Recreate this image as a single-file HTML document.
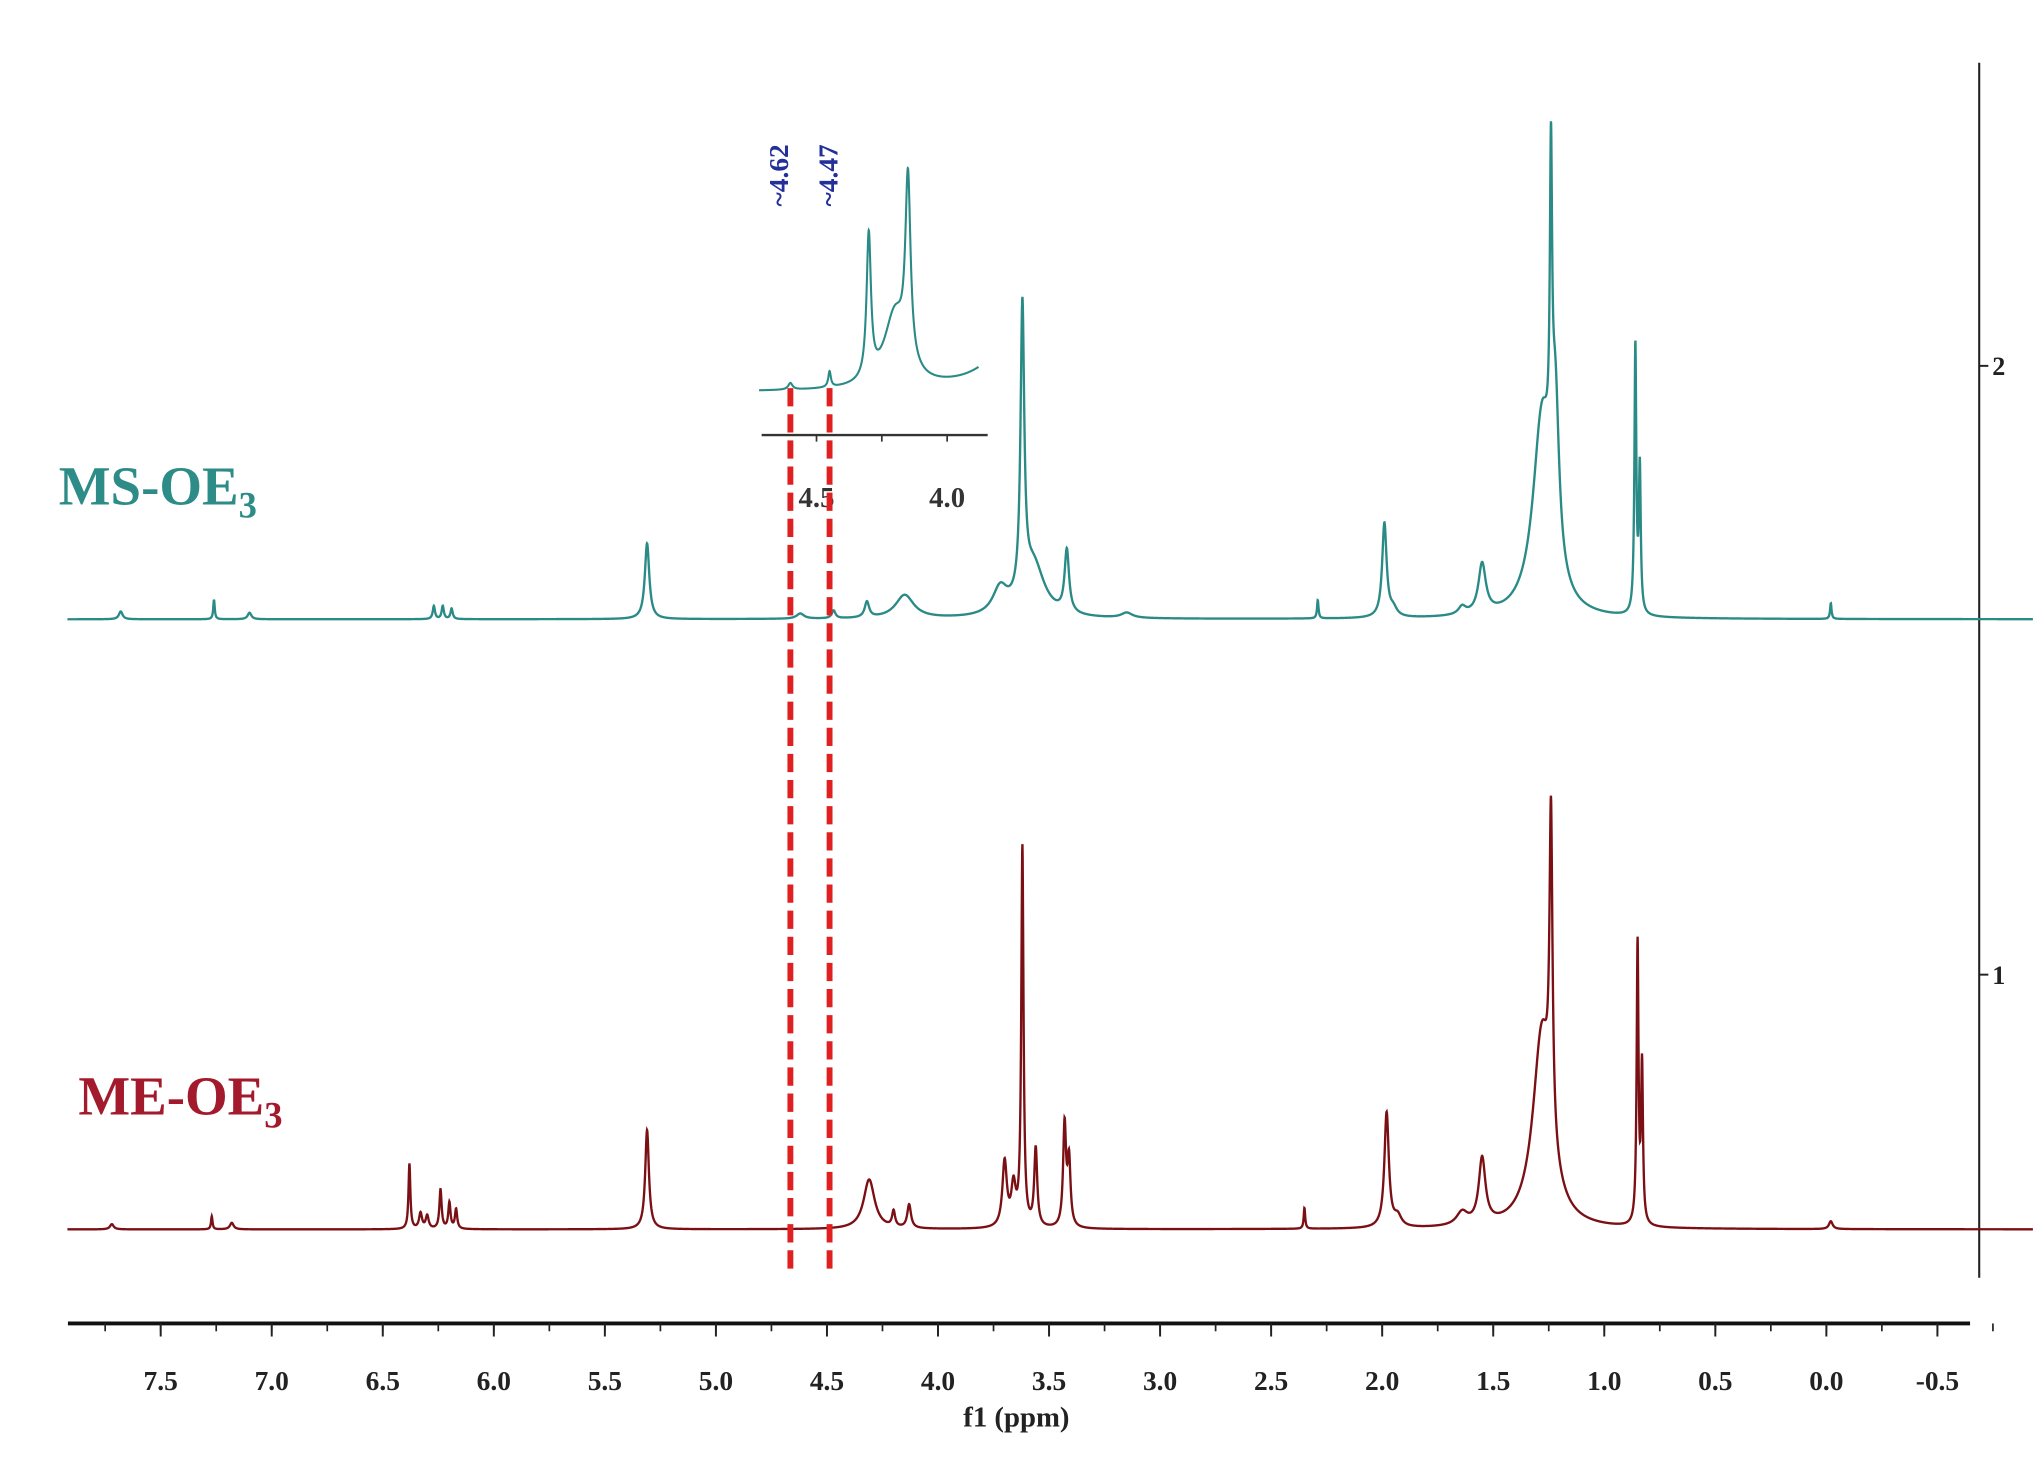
<!DOCTYPE html>
<html><head><meta charset="utf-8"><style>
html,body{margin:0;padding:0;background:#fff;}
svg{display:block;}
text{font-family:"Liberation Serif",serif;}
</style></head><body>
<svg id="chart" width="2038" height="1462" viewBox="0 0 1560 1119" xmlns="http://www.w3.org/2000/svg">
<g id="axes"></g>
<path id="ms" fill="none" stroke="#2a8a86" stroke-width="1.8"/>
<path id="me" fill="none" stroke="#7a0f14" stroke-width="1.8"/>
<path id="inset" fill="none" stroke="#2a8a86" stroke-width="1.6"/>
<g id="inset-axis"></g>
<line x1="605" y1="297" x2="605" y2="975" stroke="#e02020" stroke-width="4.5" stroke-dasharray="14,6"/>
<line x1="635" y1="297" x2="635" y2="975" stroke="#e02020" stroke-width="4.5" stroke-dasharray="14,6"/>
<text transform="translate(603,158) rotate(-90)" font-size="21" font-weight="bold" fill="#23309a">~4.62</text>
<text transform="translate(641,158) rotate(-90)" font-size="21" font-weight="bold" fill="#23309a">~4.47</text>
<text x="45" y="386" font-size="42" font-weight="bold" fill="#2e8c88">MS-OE<tspan font-size="28" dy="10">3</tspan></text>
<text x="60" y="853" font-size="42" font-weight="bold" fill="#a31a2c">ME-OE<tspan font-size="28" dy="10">3</tspan></text>
<text x="778" y="1092" font-size="22" font-weight="bold" text-anchor="middle" fill="#222">f1 (ppm)</text>
</svg>
<script>
const tickLabels = [7.5,7.0,6.5,6.0,5.5,5.0,4.5,4.0,3.5,3.0,2.5,2.0,1.5,1.0,0.5,0.0,-0.5];
const rightTicks = [2,1];
// MS-OE3 peaks: ppm, height (px), width (ppm)
const msPpm = [7.68,7.26,7.1,6.27,6.23,6.19,5.31,4.62,4.47,4.32,4.15,3.72,3.62,3.57,3.42,3.15,2.29,1.99,1.95,1.64,1.55,1.28,1.24,1.22,0.86,0.84,-0.02];
const msH   = [6,15,5,10,10,8,58,4,6,12,18,20,220,40,48,4,14,72,6,6,38,150,230,120,205,110,12];
const msW   = [.01,.004,.01,.006,.006,.006,.012,.02,.01,.012,.05,.04,.01,.06,.012,.03,.004,.012,.02,.02,.02,.05,.006,.02,.005,.005,.004];
// ME-OE3 peaks
const mePpm = [7.72,7.27,7.18,6.38,6.33,6.3,6.24,6.2,6.17,5.31,4.31,4.2,4.13,3.70,3.66,3.62,3.56,3.43,3.41,2.35,1.98,1.93,1.64,1.55,1.28,1.24,0.85,0.83,-0.02];
const meH   = [4,10,5,50,12,10,30,20,15,76,38,12,18,50,30,290,60,78,50,16,88,8,10,50,150,240,215,120,6];
const meW   = [.01,.004,.01,.005,.008,.008,.006,.006,.006,.01,.03,.008,.01,.012,.012,.006,.008,.008,.008,.004,.012,.02,.03,.018,.05,.008,.005,.005,.01];
// inset (MS-OE3 zoom 4.7 - 3.8 ppm)
const insPpm = [4.62,4.47,4.32,4.22,4.17,3.75];
const insH   = [5,12,110,55,140,45];
const insW   = [.01,.006,.01,.05,.012,.12];

const NS='http://www.w3.org/2000/svg';
const X = p => 123 + (7.5 - p) * 170;
const IX = p => 635 + (4.47 - p) * 200;
function spec(ppms, hs, ws, p){let s=0;for(let i=0;i<ppms.length;i++){const d=p-ppms[i];s+=hs[i]*ws[i]*ws[i]/(d*d+ws[i]*ws[i]);}return s;}
function build(ppms,hs,ws,base,xf,p0,p1,n){let d='';for(let i=0;i<=n;i++){const p=p0+(p1-p0)*i/n;d+=(i?'L':'M')+xf(p).toFixed(2)+','+(base-spec(ppms,hs,ws,p)).toFixed(2);}return d;}
document.getElementById('ms').setAttribute('d',build(msPpm,msH,msW,474,X,7.92,-0.93,9000));
document.getElementById('me').setAttribute('d',build(mePpm,meH,meW,941,X,7.92,-0.93,9000));
document.getElementById('inset').setAttribute('d',build(insPpm,insH,insW,300,IX,4.74,3.9,1500));

const ax=document.getElementById('axes');
function mk(tag,attrs,parent){const e=document.createElementNS(NS,tag);for(const k in attrs)e.setAttribute(k,attrs[k]);parent.appendChild(e);return e;}
const xl=mk('line',{x1:52,y1:1013,x2:1508,y2:1013,stroke:'#111','stroke-width':3},ax);


for(let p=7.75;p>=-0.76;p-=0.25){
  const t=mk('line',{x1:X(p),y1:1013,x2:X(p),y2:1019,stroke:'#222','stroke-width':1.3},ax);
  
  
}
tickLabels.forEach(v=>{
  const t=mk('line',{x1:X(v),y1:1013,x2:X(v),y2:1023,stroke:'#222','stroke-width':1.5},ax);
  
  
  const l=mk('text',{x:X(v),y:1064,'font-size':21,'font-weight':'bold','text-anchor':'middle',fill:'#222'},ax);
  l.textContent=v.toFixed(1);
  
  
});
const yl=mk('line',{x1:1515,y1:48,x2:1515,y2:978,stroke:'#222','stroke-width':1.6},ax);


const ry={2:280,1:746};
rightTicks.forEach(v=>{
  const t=mk('line',{x1:1515,y1:ry[v],x2:1522,y2:ry[v],stroke:'#222','stroke-width':1.5},ax);
  
  
  const l=mk('text',{x:1525,y:ry[v]+7,'font-size':20,'font-weight':'bold',fill:'#222'},ax);
  l.textContent=v;
  
  
});
const ia=document.getElementById('inset-axis');
const il=mk('line',{x1:583,y1:333,x2:756,y2:333,stroke:'#333','stroke-width':1.8},ia);


[[4.5,'4.5'],[4.25,''],[4.0,'4.0']].forEach(([v,s])=>{
  const t=mk('line',{x1:IX(v)-4,y1:333,x2:IX(v)-4,y2:338,stroke:'#333','stroke-width':1.3},ia);
  
  
  if(s){const l=mk('text',{x:IX(v)-4,y:388,'font-size':22,'font-weight':'bold','text-anchor':'middle',fill:'#333'},ia);
  l.textContent=s;
  
  }
});
</script>
</body></html>
